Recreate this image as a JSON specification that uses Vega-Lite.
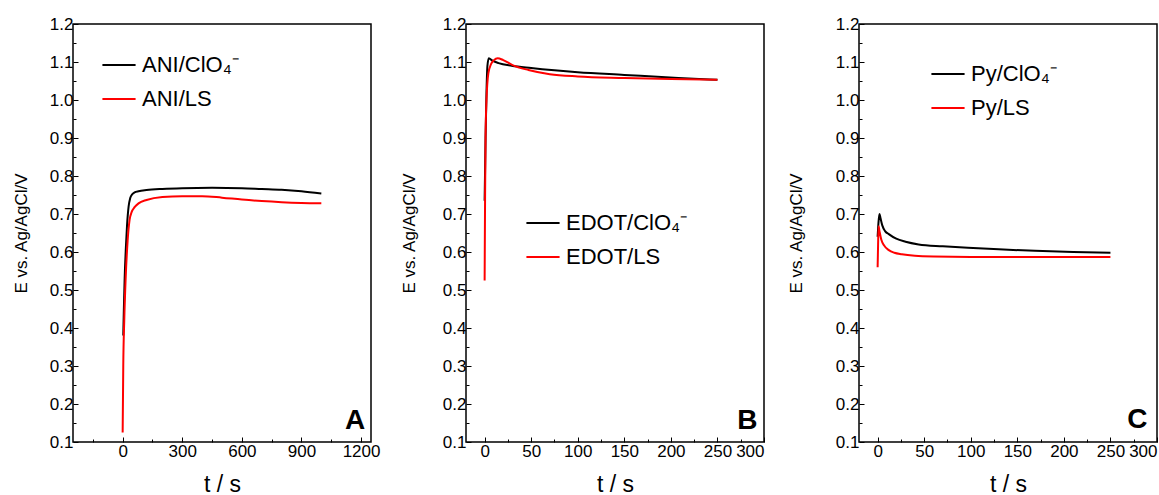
{
  "$schema": "https://vega.github.io/schema/vega-lite/v6.json",
  "autosize": {"type": "pad"},
  "padding": {"left": 11, "top": 14, "right": 0, "bottom": 0},
  "background": "white",
  "spacing": 95,
  "bounds": "flush",
  "config": {
    "font": "Liberation Sans",
    "view": {"stroke": "#000", "strokeWidth": 1.5},
    "axis": {
      "domain": false,
      "grid": false,
      "ticks": true,
      "tickColor": "#000",
      "tickWidth": 1,
      "labelColor": "#000",
      "labelFont": "Liberation Sans",
      "labelFontSize": 17,
      "labelOverlap": false,
      "titleColor": "#000",
      "titleFont": "Liberation Sans",
      "titleFontWeight": "normal"
    },
    "legend": {
      "orient": "none",
      "title": null,
      "symbolType": "stroke",
      "symbolSize": 1100,
      "symbolStrokeWidth": 2,
      "labelFont": "Liberation Sans",
      "labelFontSize": 22,
      "labelColor": "#000",
      "labelOffset": 5,
      "rowPadding": 5,
      "padding": 0,
      "labelLimit": 300
    },
    "text": {"font": "Liberation Sans"}
  },
  "resolve": {"scale": {"color": "independent", "x": "independent", "y": "independent"}, "legend": {"color": "independent"}},
  "hconcat": [
    {
      "width": 298,
      "height": 418,
      "resolve": {"axis": {"x": "independent", "y": "independent"}},
      "layer": [
        {
          "data": {"values": [
            {"t": 3, "E": 0.38, "s": "ANI/ClO₄⁻"},
            {"t": 6, "E": 0.45, "s": "ANI/ClO₄⁻"},
            {"t": 10, "E": 0.53, "s": "ANI/ClO₄⁻"},
            {"t": 16, "E": 0.61, "s": "ANI/ClO₄⁻"},
            {"t": 22, "E": 0.67, "s": "ANI/ClO₄⁻"},
            {"t": 30, "E": 0.72, "s": "ANI/ClO₄⁻"},
            {"t": 38, "E": 0.742, "s": "ANI/ClO₄⁻"},
            {"t": 48, "E": 0.752, "s": "ANI/ClO₄⁻"},
            {"t": 60, "E": 0.757, "s": "ANI/ClO₄⁻"},
            {"t": 80, "E": 0.760, "s": "ANI/ClO₄⁻"},
            {"t": 120, "E": 0.763, "s": "ANI/ClO₄⁻"},
            {"t": 200, "E": 0.766, "s": "ANI/ClO₄⁻"},
            {"t": 300, "E": 0.768, "s": "ANI/ClO₄⁻"},
            {"t": 450, "E": 0.769, "s": "ANI/ClO₄⁻"},
            {"t": 600, "E": 0.768, "s": "ANI/ClO₄⁻"},
            {"t": 700, "E": 0.766, "s": "ANI/ClO₄⁻"},
            {"t": 800, "E": 0.764, "s": "ANI/ClO₄⁻"},
            {"t": 900, "E": 0.760, "s": "ANI/ClO₄⁻"},
            {"t": 1000, "E": 0.754, "s": "ANI/ClO₄⁻"},
            {"t": 0, "E": 0.125, "s": "ANI/LS"},
            {"t": 3, "E": 0.30, "s": "ANI/LS"},
            {"t": 8, "E": 0.42, "s": "ANI/LS"},
            {"t": 15, "E": 0.53, "s": "ANI/LS"},
            {"t": 25, "E": 0.63, "s": "ANI/LS"},
            {"t": 35, "E": 0.685, "s": "ANI/LS"},
            {"t": 45, "E": 0.705, "s": "ANI/LS"},
            {"t": 60, "E": 0.718, "s": "ANI/LS"},
            {"t": 80, "E": 0.728, "s": "ANI/LS"},
            {"t": 120, "E": 0.737, "s": "ANI/LS"},
            {"t": 200, "E": 0.745, "s": "ANI/LS"},
            {"t": 300, "E": 0.747, "s": "ANI/LS"},
            {"t": 400, "E": 0.747, "s": "ANI/LS"},
            {"t": 500, "E": 0.743, "s": "ANI/LS"},
            {"t": 600, "E": 0.738, "s": "ANI/LS"},
            {"t": 700, "E": 0.734, "s": "ANI/LS"},
            {"t": 800, "E": 0.731, "s": "ANI/LS"},
            {"t": 900, "E": 0.729, "s": "ANI/LS"},
            {"t": 1000, "E": 0.728, "s": "ANI/LS"}
          ]},
          "mark": {"type": "line", "strokeWidth": 2, "interpolate": "monotone"},
          "encoding": {
            "x": {"field": "t", "type": "quantitative",
              "scale": {"domain": [-250, 1250], "nice": false, "zero": false},
              "axis": {"orient": "bottom", "title": "t / s", "titleFontSize": 23, "titlePadding": 14, "labelOverlap": false,
                "values": [0, 300, 600, 900, 1200], "format": "d", "tickSize": -5, "labelPadding": 6}},
            "y": {"field": "E", "type": "quantitative",
              "scale": {"domain": [0.1, 1.2], "nice": false, "zero": false},
              "axis": {"orient": "left", "title": "E vs. Ag/AgCl/V", "titleFontSize": 17, "titlePadding": 19, "labelOverlap": false,
                "values": [0.1, 0.2, 0.3, 0.4, 0.5, 0.6, 0.7, 0.8, 0.9, 1.0, 1.1, 1.2], "format": ".1f", "tickSize": -5, "labelPadding": 5}},
            "color": {"field": "s", "type": "nominal",
              "scale": {"domain": ["ANI/ClO₄⁻", "ANI/LS"], "range": ["#000000", "#ff0000"]},
              "legend": {"legendX": 28, "legendY": 23}}
          }
        },
        {
          "data": {"values": [{"t": 1170, "E": 0.134, "letter": "A"}]},
          "mark": {"type": "text", "fontSize": 28, "fontWeight": "bold", "align": "center", "baseline": "alphabetic", "color": "#000"},
          "encoding": {
            "x": {"field": "t", "type": "quantitative",
              "axis": {"orient": "bottom", "title": null, "labels": false, "values": [-150, 150, 450, 750, 1050], "tickSize": -3}},
            "y": {"field": "E", "type": "quantitative",
              "axis": {"orient": "left", "title": null, "labels": false, "values": [0.15, 0.25, 0.35, 0.45, 0.55, 0.65, 0.75, 0.85, 0.95, 1.05, 1.15], "tickSize": -3}},
            "text": {"field": "letter"}
          }
        }
      ]
    },
    {
      "width": 298,
      "height": 418,
      "resolve": {"axis": {"x": "independent", "y": "independent"}},
      "layer": [
        {
          "data": {"values": [
            {"t": 0, "E": 0.735, "s": "EDOT/ClO₄⁻"},
            {"t": 1, "E": 0.90, "s": "EDOT/ClO₄⁻"},
            {"t": 2, "E": 1.02, "s": "EDOT/ClO₄⁻"},
            {"t": 3, "E": 1.09, "s": "EDOT/ClO₄⁻"},
            {"t": 4.5, "E": 1.11, "s": "EDOT/ClO₄⁻"},
            {"t": 8, "E": 1.104, "s": "EDOT/ClO₄⁻"},
            {"t": 15, "E": 1.097, "s": "EDOT/ClO₄⁻"},
            {"t": 29, "E": 1.090, "s": "EDOT/ClO₄⁻"},
            {"t": 50, "E": 1.084, "s": "EDOT/ClO₄⁻"},
            {"t": 75, "E": 1.078, "s": "EDOT/ClO₄⁻"},
            {"t": 100, "E": 1.073, "s": "EDOT/ClO₄⁻"},
            {"t": 150, "E": 1.066, "s": "EDOT/ClO₄⁻"},
            {"t": 208, "E": 1.058, "s": "EDOT/ClO₄⁻"},
            {"t": 250, "E": 1.053, "s": "EDOT/ClO₄⁻"},
            {"t": 0, "E": 0.525, "s": "EDOT/LS"},
            {"t": 0.5, "E": 0.75, "s": "EDOT/LS"},
            {"t": 1, "E": 0.90, "s": "EDOT/LS"},
            {"t": 2, "E": 1.00, "s": "EDOT/LS"},
            {"t": 4, "E": 1.07, "s": "EDOT/LS"},
            {"t": 7, "E": 1.095, "s": "EDOT/LS"},
            {"t": 10, "E": 1.105, "s": "EDOT/LS"},
            {"t": 14, "E": 1.11, "s": "EDOT/LS"},
            {"t": 20, "E": 1.105, "s": "EDOT/LS"},
            {"t": 30, "E": 1.092, "s": "EDOT/LS"},
            {"t": 47, "E": 1.079, "s": "EDOT/LS"},
            {"t": 70, "E": 1.068, "s": "EDOT/LS"},
            {"t": 100, "E": 1.062, "s": "EDOT/LS"},
            {"t": 150, "E": 1.058, "s": "EDOT/LS"},
            {"t": 200, "E": 1.055, "s": "EDOT/LS"},
            {"t": 250, "E": 1.053, "s": "EDOT/LS"}
          ]},
          "mark": {"type": "line", "strokeWidth": 2, "interpolate": "monotone"},
          "encoding": {
            "x": {"field": "t", "type": "quantitative",
              "scale": {"domain": [-20, 300], "nice": false, "zero": false},
              "axis": {"orient": "bottom", "title": "t / s", "titleFontSize": 23, "titlePadding": 14, "labelOverlap": false,
                "values": [0, 50, 100, 150, 200, 250, 300], "format": "d", "tickSize": -5, "labelPadding": 6}},
            "y": {"field": "E", "type": "quantitative",
              "scale": {"domain": [0.1, 1.2], "nice": false, "zero": false},
              "axis": {"orient": "left", "title": "E vs. Ag/AgCl/V", "titleFontSize": 17, "titlePadding": 24, "labelOverlap": false,
                "values": [0.1, 0.2, 0.3, 0.4, 0.5, 0.6, 0.7, 0.8, 0.9, 1.0, 1.1, 1.2], "format": ".1f", "tickSize": -5, "labelPadding": 5}},
            "color": {"field": "s", "type": "nominal",
              "scale": {"domain": ["EDOT/ClO₄⁻", "EDOT/LS"], "range": ["#000000", "#ff0000"]},
              "legend": {"legendX": 59, "legendY": 181}}
          }
        },
        {
          "data": {"values": [{"t": 282, "E": 0.134, "letter": "B"}]},
          "mark": {"type": "text", "fontSize": 28, "fontWeight": "bold", "align": "center", "baseline": "alphabetic", "color": "#000"},
          "encoding": {
            "x": {"field": "t", "type": "quantitative",
              "axis": {"orient": "bottom", "title": null, "labels": false, "values": [25, 75, 125, 175, 225, 275], "tickSize": -3}},
            "y": {"field": "E", "type": "quantitative",
              "axis": {"orient": "left", "title": null, "labels": false, "values": [0.15, 0.25, 0.35, 0.45, 0.55, 0.65, 0.75, 0.85, 0.95, 1.05, 1.15], "tickSize": -3}},
            "text": {"field": "letter"}
          }
        }
      ]
    },
    {
      "width": 298,
      "height": 418,
      "resolve": {"axis": {"x": "independent", "y": "independent"}},
      "layer": [
        {
          "data": {"values": [
            {"t": 0, "E": 0.64, "s": "Py/ClO₄⁻"},
            {"t": 1, "E": 0.68, "s": "Py/ClO₄⁻"},
            {"t": 2, "E": 0.70, "s": "Py/ClO₄⁻"},
            {"t": 3, "E": 0.69, "s": "Py/ClO₄⁻"},
            {"t": 5, "E": 0.67, "s": "Py/ClO₄⁻"},
            {"t": 8, "E": 0.655, "s": "Py/ClO₄⁻"},
            {"t": 12, "E": 0.647, "s": "Py/ClO₄⁻"},
            {"t": 20, "E": 0.635, "s": "Py/ClO₄⁻"},
            {"t": 30, "E": 0.627, "s": "Py/ClO₄⁻"},
            {"t": 44, "E": 0.620, "s": "Py/ClO₄⁻"},
            {"t": 70, "E": 0.615, "s": "Py/ClO₄⁻"},
            {"t": 97, "E": 0.611, "s": "Py/ClO₄⁻"},
            {"t": 130, "E": 0.607, "s": "Py/ClO₄⁻"},
            {"t": 169, "E": 0.603, "s": "Py/ClO₄⁻"},
            {"t": 210, "E": 0.600, "s": "Py/ClO₄⁻"},
            {"t": 250, "E": 0.598, "s": "Py/ClO₄⁻"},
            {"t": 0, "E": 0.56, "s": "Py/LS"},
            {"t": 0.5, "E": 0.62, "s": "Py/LS"},
            {"t": 1, "E": 0.668, "s": "Py/LS"},
            {"t": 2, "E": 0.655, "s": "Py/LS"},
            {"t": 4, "E": 0.632, "s": "Py/LS"},
            {"t": 7, "E": 0.617, "s": "Py/LS"},
            {"t": 12, "E": 0.605, "s": "Py/LS"},
            {"t": 18, "E": 0.598, "s": "Py/LS"},
            {"t": 26, "E": 0.594, "s": "Py/LS"},
            {"t": 40, "E": 0.590, "s": "Py/LS"},
            {"t": 60, "E": 0.588, "s": "Py/LS"},
            {"t": 100, "E": 0.587, "s": "Py/LS"},
            {"t": 150, "E": 0.587, "s": "Py/LS"},
            {"t": 200, "E": 0.587, "s": "Py/LS"},
            {"t": 250, "E": 0.587, "s": "Py/LS"}
          ]},
          "mark": {"type": "line", "strokeWidth": 2, "interpolate": "monotone"},
          "encoding": {
            "x": {"field": "t", "type": "quantitative",
              "scale": {"domain": [-20, 300], "nice": false, "zero": false},
              "axis": {"orient": "bottom", "title": "t / s", "titleFontSize": 23, "titlePadding": 14, "labelOverlap": false,
                "values": [0, 50, 100, 150, 200, 250, 300], "format": "d", "tickSize": -5, "labelPadding": 6}},
            "y": {"field": "E", "type": "quantitative",
              "scale": {"domain": [0.1, 1.2], "nice": false, "zero": false},
              "axis": {"orient": "left", "title": "E vs. Ag/AgCl/V", "titleFontSize": 17, "titlePadding": 30, "labelOverlap": false,
                "values": [0.1, 0.2, 0.3, 0.4, 0.5, 0.6, 0.7, 0.8, 0.9, 1.0, 1.1, 1.2], "format": ".1f", "tickSize": -5, "labelPadding": 5}},
            "color": {"field": "s", "type": "nominal",
              "scale": {"domain": ["Py/ClO₄⁻", "Py/LS"], "range": ["#000000", "#ff0000"]},
              "legend": {"legendX": 71, "legendY": 32}}
          }
        },
        {
          "data": {"values": [{"t": 279, "E": 0.137, "letter": "C"}]},
          "mark": {"type": "text", "fontSize": 28, "fontWeight": "bold", "align": "center", "baseline": "alphabetic", "color": "#000"},
          "encoding": {
            "x": {"field": "t", "type": "quantitative",
              "axis": {"orient": "bottom", "title": null, "labels": false, "values": [25, 75, 125, 175, 225, 275], "tickSize": -3}},
            "y": {"field": "E", "type": "quantitative",
              "axis": {"orient": "left", "title": null, "labels": false, "values": [0.15, 0.25, 0.35, 0.45, 0.55, 0.65, 0.75, 0.85, 0.95, 1.05, 1.15], "tickSize": -3}},
            "text": {"field": "letter"}
          }
        }
      ]
    }
  ]
}
